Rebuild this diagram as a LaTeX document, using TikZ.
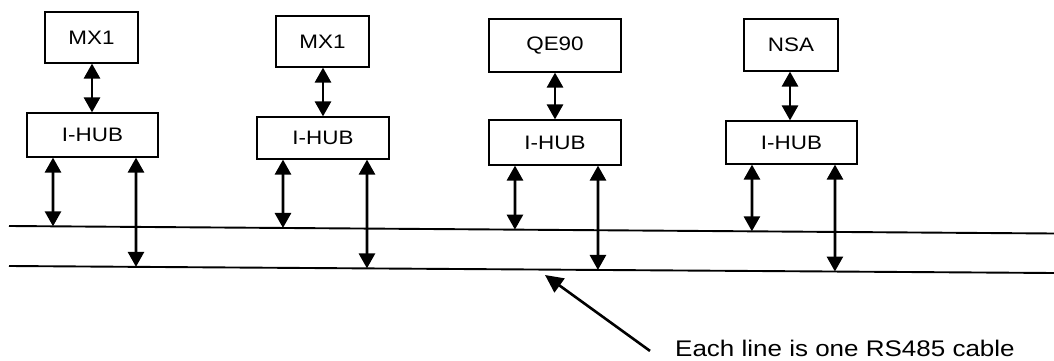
\documentclass[tikz,border=0pt]{standalone}
\usepackage{fontspec}
\setmainfont[FakeStretch=1.15]{Liberation Sans}
\usetikzlibrary{arrows.meta,calc}

\begin{document}
\begin{tikzpicture}[
  x=1pt,y=-1pt,
  box/.style={draw,line width=1.2pt,inner sep=0pt,
              font=\fontsize{19.5}{22}\selectfont},
  link/.style={{Triangle[width=16pt,length=15pt]}-{Triangle[width=16pt,length=15pt]},
               line width=2.8pt},
  bus/.style={line width=1.9pt},
  pointer/.style={-{Triangle[width=17pt,length=18pt]},line width=2.6pt}
]
\useasboundingbox (0,0) rectangle (1054,361);

% the two RS485 cables
\coordinate (upL) at (9,226);
\coordinate (upR) at (1054,233.5);
\coordinate (loL) at (9,266);
\coordinate (loR) at (1054,273);
\draw[bus] (upL) -- (upR);
\draw[bus] (loL) -- (loR);

% first station
\node[box,minimum width=93pt,minimum height=51pt] (dev1) at (91.5,37.5) {MX1};
\node[box,minimum width=131pt,minimum height=44pt] (hub1) at (92.5,135) {I-HUB};
\draw[link] (dev1.south -| 92,0) -- (hub1.north -| 92,0);
\draw[link] (hub1.south -| 53,0) -- ($(upL)!(53,226)!(upR)$);
\draw[link] (hub1.south -| 136,0) -- ($(loL)!(136,266)!(loR)$);

% second station
\node[box,minimum width=93pt,minimum height=51pt] (dev2) at (322.5,41.5) {MX1};
\node[box,minimum width=132pt,minimum height=42pt] (hub2) at (323,138) {I-HUB};
\draw[link] (dev2.south -| 323,0) -- (hub2.north -| 323,0);
\draw[link] (hub2.south -| 283,0) -- ($(upL)!(283,226)!(upR)$);
\draw[link] (hub2.south -| 367,0) -- ($(loL)!(367,266)!(loR)$);

% third station
\node[box,minimum width=132pt,minimum height=53pt] (dev3) at (555,45.5) {QE90};
\node[box,minimum width=132pt,minimum height=45pt] (hub3) at (555,142.5) {I-HUB};
\draw[link] (dev3.south) -- (hub3.north);
\draw[link] (hub3.south -| 515,0) -- ($(upL)!(515,226)!(upR)$);
\draw[link] (hub3.south -| 598,0) -- ($(loL)!(598,266)!(loR)$);

% fourth station
\node[box,minimum width=94pt,minimum height=52pt] (dev4) at (791,45) {NSA};
\node[box,minimum width=131pt,minimum height=43pt] (hub4) at (791.5,142.5) {I-HUB};
\draw[link] (dev4.south -| 790,0) -- (hub4.north -| 790,0);
\draw[link] (hub4.south -| 752,0) -- ($(upL)!(752,226)!(upR)$);
\draw[link] (hub4.south -| 835,0) -- ($(loL)!(835,266)!(loR)$);

% note
\node[anchor=base west,inner sep=0pt,font=\fontsize{22.6}{26}\selectfont]
  (note) at (675,356) {Each line is one RS485 cable};
\coordinate (tip) at (545,275);
\draw[pointer] ([xshift=-25pt,yshift=-3pt]note.west) -- (tip);
\end{tikzpicture}
\end{document}
